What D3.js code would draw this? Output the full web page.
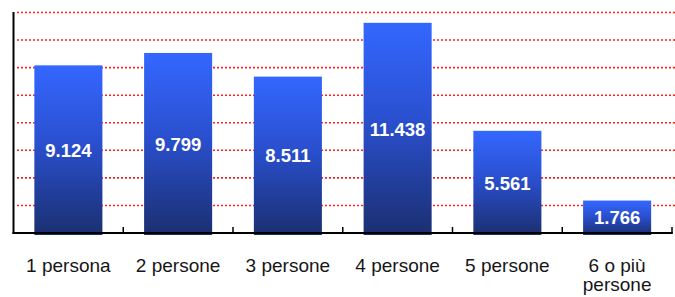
<!DOCTYPE html>
<html>
<head>
<meta charset="utf-8">
<script src="https://cdn.jsdelivr.net/npm/d3@7"></script>
<style>
  body { margin: 0; background: #fff; }
  svg { display: block; }
</style>
</head>
<body>
<div id="chart"></div>
<script>
const categories = ["1 persona", "2 persone", "3 persone", "4 persone", "5 persone", "6 o più persone"];
const values = [9124, 9799, 8511, 11438, 5561, 1766];
const valueLabels = ["9.124", "9.799", "8.511", "11.438", "5.561", "1.766"];
const gridTicks = [1500, 3000, 4500, 6000, 7500, 9000, 10500, 12000];

const W = 675, H = 297;
const plotLeft = 13.5, plotRight = 672, plotTop = 12.5, plotBottom = 233;

const svg = d3.select("#chart").append("svg")
  .attr("width", W).attr("height", H);

// bar gradient
const grad = svg.append("defs").append("linearGradient")
  .attr("id", "barGrad").attr("x1", 0).attr("y1", 0).attr("x2", 0).attr("y2", 1);
grad.append("stop").attr("offset", "0%").attr("stop-color", "#3467ff");
grad.append("stop").attr("offset", "45%").attr("stop-color", "#2a50d0");
grad.append("stop").attr("offset", "100%").attr("stop-color", "#1b2f70");

const x = d3.scaleBand()
  .domain(categories)
  .range([plotLeft, plotRight])
  .paddingInner(0.38)
  .paddingOuter(0.19);

const y = d3.scaleLinear().domain([0, 12000]).range([plotBottom, plotTop]);

// red dotted gridlines
svg.append("g").selectAll("line")
  .data(gridTicks)
  .join("line")
  .attr("x1", 17).attr("x2", W)
  .attr("y1", d => y(d)).attr("y2", d => y(d))
  .attr("stroke", "#ff2020")
  .attr("stroke-width", 1.6)
  .attr("stroke-dasharray", "2,2");

// bars
svg.append("g").selectAll("rect")
  .data(values)
  .join("rect")
  .attr("x", (d, i) => x(categories[i]))
  .attr("width", x.bandwidth())
  .attr("y", d => y(d))
  .attr("height", d => y(0) - y(d) + 2)
  .attr("fill", "url(#barGrad)");

// value labels
svg.append("g").selectAll("text")
  .data(values)
  .join("text")
  .attr("x", (d, i) => x(categories[i]) + x.bandwidth() / 2)
  .attr("y", d => (y(d) + y(0) + 2) / 2)
  .attr("dy", "0.36em")
  .attr("text-anchor", "middle")
  .attr("fill", "#fff")
  .style("font-family", "'Liberation Sans', Arial, sans-serif")
  .style("font-weight", "bold")
  .style("font-size", "18.5px")
  .text((d, i) => valueLabels[i]);

// axes
const step = x.step();
const bounds = d3.range(1, categories.length + 1).map(k => x.range()[0] + k * step);
svg.append("g").selectAll("line")
  .data(bounds)
  .join("line")
  .attr("x1", d => d).attr("x2", d => d)
  .attr("y1", plotBottom - 6).attr("y2", plotBottom)
  .attr("stroke", "#000").attr("stroke-width", 1.5);

svg.append("line")
  .attr("x1", plotLeft).attr("x2", plotLeft)
  .attr("y1", plotTop - 0.5).attr("y2", plotBottom + 1)
  .attr("stroke", "#000").attr("stroke-width", 2);

svg.append("line")
  .attr("x1", plotLeft - 1).attr("x2", plotRight + 0.8)
  .attr("y1", plotBottom).attr("y2", plotBottom)
  .attr("stroke", "#000").attr("stroke-width", 2);

// category labels
const catText = svg.append("g").selectAll("text")
  .data(categories)
  .join("text")
  .attr("x", d => x(d) + x.bandwidth() / 2)
  .attr("y", 271.5)
  .attr("text-anchor", "middle")
  .attr("fill", "#161616")
  .style("font-family", "'Liberation Sans', Arial, sans-serif")
  .style("font-size", "19px");

catText.each(function(d) {
  const t = d3.select(this);
  const lines = d === "6 o più persone" ? ["6 o più", "persone"] : [d];
  lines.forEach((ln, i) => {
    t.append("tspan")
      .attr("x", x(d) + x.bandwidth() / 2)
      .attr("dy", i === 0 ? 0 : 19.5)
      .text(ln);
  });
});
</script>
</body>
</html>
